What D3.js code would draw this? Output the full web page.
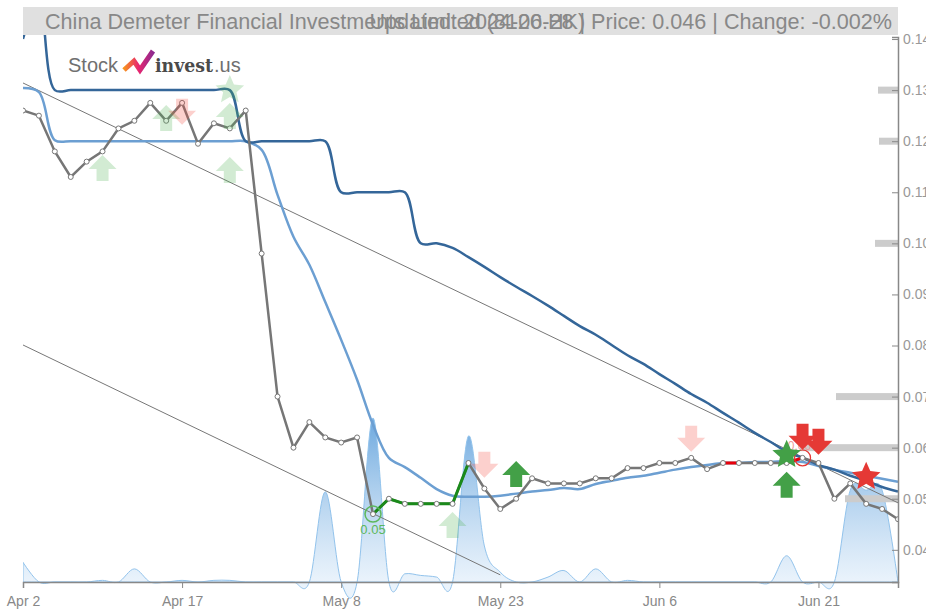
<!DOCTYPE html>
<html>
<head>
<meta charset="utf-8">
<script src="https://cdn.jsdelivr.net/npm/d3@7"></script>
<style>
body{margin:0;background:#fff;}
svg{display:block;font-family:"Liberation Sans",Arial,sans-serif;}
</style>
</head>
<body>
<div id="graph"></div>
<script>
// trading days shown on the chart
var dates=["2024-04-02","2024-04-03","2024-04-05","2024-04-08","2024-04-09","2024-04-10","2024-04-11","2024-04-12","2024-04-15","2024-04-16",
	"2024-04-17","2024-04-18","2024-04-22","2024-04-24","2024-04-25","2024-04-29","2024-04-30","2024-05-02","2024-05-06","2024-05-07",
	"2024-05-08","2024-05-09","2024-05-10","2024-05-13","2024-05-14","2024-05-16","2024-05-17","2024-05-20","2024-05-21","2024-05-22",
	"2024-05-23","2024-05-24","2024-05-27","2024-05-28","2024-05-29","2024-05-30","2024-05-31","2024-06-03","2024-06-04","2024-06-05",
	"2024-06-06","2024-06-07","2024-06-11","2024-06-12","2024-06-13","2024-06-14","2024-06-17","2024-06-18","2024-06-19","2024-06-20",
	"2024-06-21","2024-06-24","2024-06-25","2024-06-26","2024-06-27","2024-06-28"];

var price=[0.126,0.125,0.118,0.113,0.116,0.118,0.1225,0.124,0.1275,0.124,
	0.1275,0.1195,0.1235,0.1225,0.126,0.098,0.070,0.060,0.065,0.062,
	0.061,0.062,0.047,0.050,0.049,0.049,0.049,0.049,0.057,0.052,
	0.048,0.050,0.054,0.053,0.053,0.053,0.054,0.054,0.056,0.056,
	0.057,0.057,0.058,0.0558,0.057,0.057,0.057,0.057,0.057,0.058,
	0.057,0.050,0.053,0.049,0.048,0.046];

var upperBand=[0.140,0.148,0.130,0.130,0.130,0.130,0.130,0.130,0.130,0.130,
	0.130,0.130,0.130,0.130,0.120,0.120,0.120,0.120,0.120,0.120,
	0.110,0.110,0.110,0.110,0.110,0.100,0.100,0.0991,0.0973,0.0954,
	0.0934,0.0915,0.0897,0.0878,0.0858,0.0838,0.0821,0.0801,0.0781,0.0764,
	0.0744,0.0725,0.0705,0.0688,0.0668,0.0649,0.0629,0.0611,0.0592,0.0580,
	0.0566,0.0557,0.0545,0.0535,0.0523,0.0514];

var avgLine=[0.1304,0.1296,0.1202,0.120,0.120,0.120,0.120,0.120,0.120,0.120,
	0.120,0.120,0.120,0.120,0.120,0.1183,0.1095,0.1013,0.0958,0.0885,
	0.0811,0.0733,0.0645,0.0580,0.0562,0.0541,0.0519,0.0506,0.0504,0.0504,
	0.0506,0.0510,0.0514,0.0517,0.0521,0.0519,0.0529,0.0535,0.0541,0.0545,
	0.0551,0.0557,0.0562,0.0566,0.0570,0.0570,0.0572,0.0572,0.0574,0.0572,
	0.0564,0.0557,0.0551,0.0545,0.0539,0.0533];

var volume=[12,0,0,0,0,1,0,8,0,0,
	1,0,1,1,0,0,0,0,0,55,
	0,0,100,0,5,4,3,0,89,22,
	6,0,0,3,7,0,8,0,1,0,
	0,0,0,0,0,0,0,0,16,0,
	0,0,56,56,56,0];

var tickDates=["2024-04-02","2024-04-17","2024-05-08","2024-05-23","2024-06-06","2024-06-21"];
var priceTicks=[0.04,0.05,0.06,0.07,0.08,0.09,0.10,0.11,0.12,0.13,0.14];

// support / resistance levels and their strength
var levels=[0.13,0.12,0.10,0.07,0.06,0.05];
var levelStrength=[20,19,23,62,98,53];

// trend channel [index, price]
var trendUpper=[[0,0.1314],[55,0.0492]];
var trendLower=[[0,0.0801],[30,0.0351]];

// highlighted runs of the price line
var greenRun=[22,28];
var redRuns=[[44,45],[48,49]];

// signals [index, price]
var weakBuyArrows=[[5,0.1173],[13,0.1169],[13,0.1275],[9,0.1271],[27,0.0474]];
var weakSellArrows=[[10,0.1232],[29,0.0541],[42,0.0592]];
var buyArrows=[[31,0.0574],[48,0.0553]];
var sellArrows=[[49,0.0596],[50,0.0586]];
var weakBuyStars=[[13,0.1300]];
var buyStars=[[48,0.0586]];
var sellStars=[[53,0.0543]];

var titleLeft="China Demeter Financial Investments Limited (8120.HK)";
var titleRight="Updated: 2024-06-28 | Price: 0.046 | Change: -0.002%";

width=926;
height=610;
plotL=23; plotR=898; plotT=37; plotB=582;

parse=d3.timeParse("%Y-%m-%d");
fmt=d3.timeFormat("%b %-d");

x=d3.scalePoint().domain(dates).range([plotL,plotR]);
y=d3.scaleLinear().domain([0.0337,0.1404]).range([plotB,plotT]);
yv=d3.scaleLinear().domain([0,100]).range([plotB,418]);

xi=function(i){return x(dates[i]);};

arrowPath=function(dir){
	// tip at 0,0
	var s=dir;
	return "M0,0L14,"+(14*s)+"L6,"+(14*s)+"L6,"+(26*s)+"L-6,"+(26*s)+"L-6,"+(14*s)+"L-14,"+(14*s)+"Z";
};
starPath=function(R,r){
	var p=[];
	for(var k=0;k<10;k++){
		var a=-Math.PI/2+k*Math.PI/5, rr=(k%2==0)?R:r;
		p.push([rr*Math.cos(a),rr*Math.sin(a)]);
	}
	return "M"+p.map(function(d){return d[0].toFixed(2)+","+d[1].toFixed(2);}).join("L")+"Z";
};

svg=d3.select("#graph").append("svg").attr("width",width).attr("height",height);

defs=svg.append("defs");
defs.append("clipPath").attr("id","plot").append("rect")
	.attr("x",plotL).attr("y",plotT-2).attr("width",plotR-plotL).attr("height",plotB-plotT+20);
grad=defs.append("linearGradient").attr("id","volgrad")
	.attr("gradientUnits","userSpaceOnUse").attr("x1",0).attr("x2",0).attr("y1",418).attr("y2",plotB);
grad.append("stop").attr("offset","0%").attr("stop-color","#5d9fdb").attr("stop-opacity",0.9);
grad.append("stop").attr("offset","100%").attr("stop-color","#dcebf9").attr("stop-opacity",0.6);
lg=defs.append("linearGradient").attr("id","logograd").attr("x1","0%").attr("x2","100%");
lg.append("stop").attr("offset","0%").attr("stop-color","#f7931e");
lg.append("stop").attr("offset","50%").attr("stop-color","#e8266f");
lg.append("stop").attr("offset","100%").attr("stop-color","#8e2a8f");

g=svg.append("g").attr("clip-path","url(#plot)");

// volume
g.append("path").datum(volume)
	.attr("d",d3.area().x(function(d,i){return xi(i);}).y0(plotB).y1(function(d){return yv(d);}).curve(d3.curveCardinal))
	.attr("fill","url(#volgrad)").attr("stroke","#92c3ec").attr("stroke-width",1);

// support / resistance bars
g.selectAll(".lvl").data(levels).enter().append("rect")
	.attr("x",function(d,i){return plotR-levelStrength[i];})
	.attr("y",function(d){return y(d)-3.5;})
	.attr("width",function(d,i){return levelStrength[i];})
	.attr("height",7).attr("fill","#cccccc");

// trend channel
[trendUpper,trendLower].forEach(function(t){
	g.append("line").attr("x1",xi(t[0][0])).attr("y1",y(t[0][1]))
		.attr("x2",xi(t[1][0])).attr("y2",y(t[1][1]))
		.attr("stroke","#777").attr("stroke-width",1);
});

line=d3.line().x(function(d,i){return xi(i);}).y(function(d){return y(d);});

g.append("path").datum(avgLine).attr("d",line.curve(d3.curveCatmullRom))
	.attr("fill","none").attr("stroke","#6c9fd2").attr("stroke-width",2.5);
g.append("path").datum(upperBand).attr("d",line.curve(d3.curveCatmullRom))
	.attr("fill","none").attr("stroke","#346699").attr("stroke-width",2.5);

// price
g.append("path").datum(price).attr("d",line.curve(d3.curveLinear))
	.attr("fill","none").attr("stroke","#767676").attr("stroke-width",2.5);

segLine=d3.line().x(function(d){return xi(d);}).y(function(d){return y(price[d]);});
g.append("path").datum(d3.range(greenRun[0],greenRun[1]+1)).attr("d",segLine)
	.attr("fill","none").attr("stroke","#1a8a1a").attr("stroke-width",3);
redRuns.forEach(function(r){
	g.append("path").datum(d3.range(r[0],r[1]+1)).attr("d",segLine)
		.attr("fill","none").attr("stroke","#e8000b").attr("stroke-width",3);
});

g.selectAll(".pt").data(price).enter().append("circle")
	.attr("cx",function(d,i){return xi(i);}).attr("cy",function(d){return y(d);})
	.attr("r",2.5).attr("fill","#fff").attr("stroke","#777").attr("stroke-width",1);

// low / high marks
g.append("circle").attr("cx",xi(greenRun[0])).attr("cy",y(price[greenRun[0]])).attr("r",8)
	.attr("fill","none").attr("stroke","#5cb85c").attr("stroke-width",1.5);
svg.append("text").attr("x",xi(greenRun[0])).attr("y",y(price[greenRun[0]])+20)
	.attr("text-anchor","middle").attr("font-size",13).attr("fill","#5cb85c")
	.text(d3.format(".2f")(price[greenRun[0]]));
g.append("circle").attr("cx",xi(49)).attr("cy",y(price[49])).attr("r",8)
	.attr("fill","none").attr("stroke","#e53935").attr("stroke-width",1.2);
svg.append("text").attr("x",xi(49)-3).attr("y",y(price[49])-8)
	.attr("text-anchor","middle").attr("font-size",12).attr("fill","#ef9a9a")
	.text(d3.format(".2f")(price[49]));

// signals
drawArrows=function(arr,dir,color,op){
	svg.selectAll(null).data(arr).enter().append("path")
		.attr("d",arrowPath(dir))
		.attr("transform",function(d){return "translate("+xi(d[0])+","+y(d[1])+")";})
		.attr("fill",color).attr("fill-opacity",op);
};
drawStars=function(arr,color,op){
	svg.selectAll(null).data(arr).enter().append("path")
		.attr("d",starPath(15,7))
		.attr("transform",function(d){return "translate("+xi(d[0])+","+y(d[1])+")";})
		.attr("fill",color).attr("fill-opacity",op);
};
drawArrows(weakBuyArrows,1,"#4caf50",0.25);
drawStars(weakBuyStars,"#4caf50",0.25);
drawArrows(weakSellArrows,-1,"#f44336",0.25);
drawArrows(buyArrows,1,"#43a047",1);
drawStars(buyStars,"#43a047",1);
drawArrows(sellArrows,-1,"#e53935",1);
drawStars(sellStars,"#e53935",1);

// axes
xAxis=d3.axisBottom(x).tickValues(tickDates).tickFormat(function(d){return fmt(parse(d));}).tickSize(6);
ax=svg.append("g").attr("transform","translate(0,"+plotB+")").call(xAxis);
ax.select(".domain").attr("stroke","#888").attr("stroke-width",1.5);
ax.selectAll(".tick line").attr("stroke","#888");
ax.selectAll("text").attr("fill","#888").attr("font-size",14).attr("font-family","Liberation Sans, Arial, sans-serif").attr("dy","1.1em");

yAxis=d3.axisRight(y).tickValues(priceTicks).tickFormat(d3.format(".2f")).tickSizeInner(-6).tickSizeOuter(-6).tickPadding(5);
ay=svg.append("g").attr("transform","translate("+plotR+",0)").call(yAxis);
ay.select(".domain").attr("stroke","#888").attr("stroke-width",1.5);
ay.selectAll(".tick line").attr("stroke","#888");
ay.selectAll("text").attr("fill","#999").attr("font-size",14).attr("font-family","Liberation Sans, Arial, sans-serif");

// title
svg.append("rect").attr("x",plotL).attr("y",7).attr("width",plotR-plotL).attr("height",28).attr("fill","#e0e0e0");
svg.append("text").attr("x",45).attr("y",29).attr("font-size",21.6).attr("fill","#888").text(titleLeft);
svg.append("text").attr("x",892).attr("y",29).attr("text-anchor","end").attr("font-size",21.6).attr("fill","#888").text(titleRight);

// logo
logo=svg.append("g");
logo.append("text").attr("x",68).attr("y",72).attr("font-size",20).attr("fill","#707070").text("Stock");
logo.append("path").attr("d","M124,70L134,61L140,70L153,51")
	.attr("fill","none").attr("stroke","url(#logograd)").attr("stroke-width",5).attr("stroke-linejoin","miter");
logo.append("text").attr("x",155).attr("y",72).attr("font-size",19).attr("font-weight","bold").attr("fill","#4a4a4a")
	.attr("font-family","DejaVu Serif, serif").attr("textLength",58).attr("lengthAdjust","spacingAndGlyphs").text("invest");
logo.append("text").attr("x",214).attr("y",72).attr("font-size",20).attr("fill","#707070").text(".us");
</script>
</body>
</html>
